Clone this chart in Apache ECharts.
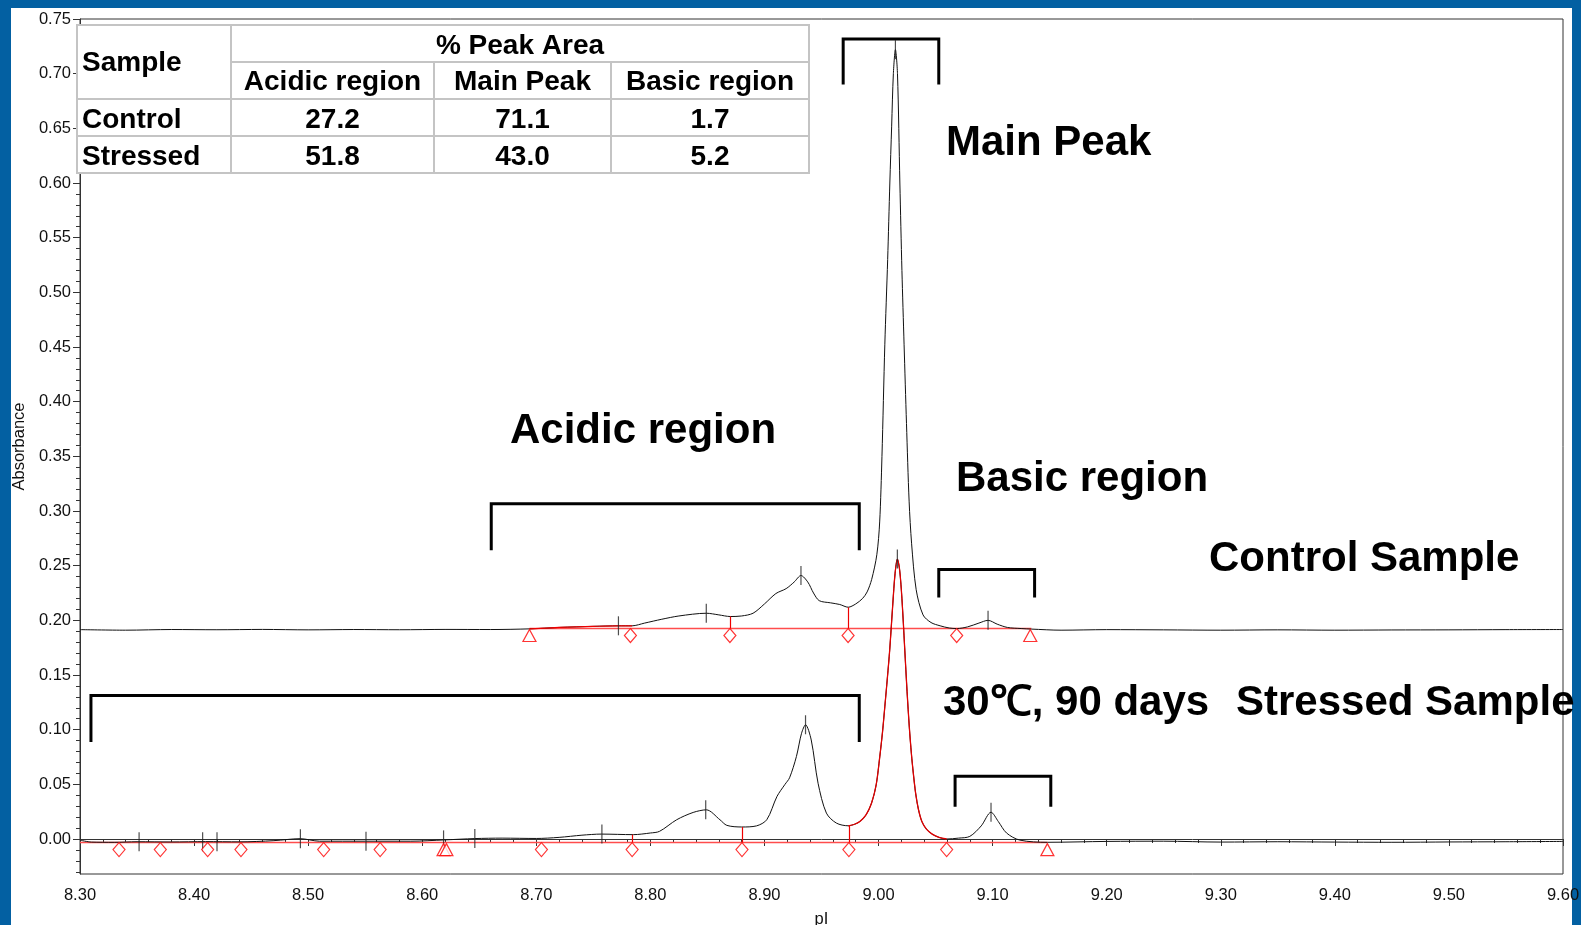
<!DOCTYPE html>
<html lang="en">
<head>
<meta charset="UTF-8">
<title>cIEF profile</title>
<script src="https://cdn.jsdelivr.net/npm/echarts@6/dist/echarts.min.js"></script>
<style>
    html, body { margin: 0; padding: 0; background: #fff; }
    #box { width: 1581px; height: 925px; }
</style>
</head>
<body>
<div id="box"></div>
<script>
    // traces (pI, absorbance)
    var controlTrace = [
        [8.30, 0.1915], [8.34, 0.1910], [8.38, 0.1916], [8.42, 0.1914], [8.46, 0.1917], [8.50, 0.1913],
        [8.54, 0.1916], [8.58, 0.1914], [8.62, 0.1917], [8.66, 0.1916], [8.694, 0.1922], [8.72, 0.1935],
        [8.75, 0.1945], [8.772, 0.1950], [8.784, 0.1950], [8.795, 0.1975], [8.81, 0.2010], [8.825, 0.2040],
        [8.849, 0.2065], [8.860, 0.2050], [8.870, 0.2035], [8.880, 0.2040], [8.890, 0.2065], [8.900, 0.2150],
        [8.910, 0.2245], [8.919, 0.2290], [8.926, 0.2350], [8.932, 0.2410], [8.938, 0.2350], [8.943, 0.2250],
        [8.948, 0.2180], [8.958, 0.2160], [8.966, 0.2145], [8.9734, 0.2120], [8.980, 0.2150], [8.986, 0.2200],
        [8.990, 0.2260], [8.994, 0.2375], [8.9985, 0.260], [9.001, 0.290], [9.003, 0.350], [9.0055, 0.452],
        [9.008, 0.530], [9.0099, 0.600], [9.0115, 0.652], [9.0130, 0.700], [9.0148, 0.722], [9.0166, 0.700],
        [9.0187, 0.600], [9.0205, 0.520], [9.0224, 0.452], [9.0245, 0.380], [9.0268, 0.309], [9.029, 0.270],
        [9.033, 0.228], [9.039, 0.205], [9.046, 0.198], [9.054, 0.195], [9.062, 0.193], [9.0685, 0.1925],
        [9.078, 0.1940], [9.088, 0.1975], [9.096, 0.2000], [9.104, 0.1965], [9.113, 0.1935], [9.125, 0.1925],
        [9.134, 0.1920], [9.16, 0.1910], [9.20, 0.1915], [9.25, 0.1913], [9.30, 0.1910], [9.35, 0.1913],
        [9.40, 0.1910], [9.45, 0.1912], [9.50, 0.1913], [9.55, 0.1915], [9.60, 0.1916]
    ];
    var stressedTrace = [
        [8.30, -0.0010], [8.31, -0.0028], [8.33, -0.0030], [8.35, -0.0025], [8.38, -0.0027], [8.41, -0.0024],
        [8.44, -0.0026], [8.47, -0.0015], [8.493, 0.0003], [8.51, -0.0020], [8.55, -0.0020], [8.59, -0.0020],
        [8.62, -0.0008], [8.646, 0.0004], [8.67, 0.0008], [8.70, 0.0005], [8.72, 0.0015], [8.74, 0.0035],
        [8.757, 0.0045], [8.785, 0.0040], [8.800, 0.0055], [8.808, 0.0070], [8.823, 0.0176], [8.8375, 0.0243],
        [8.849, 0.0267], [8.861, 0.0176], [8.867, 0.0125], [8.880, 0.0110], [8.893, 0.0120], [8.902, 0.0176],
        [8.911, 0.0390], [8.918, 0.0500], [8.922, 0.0560], [8.928, 0.0754], [8.9325, 0.0967], [8.936, 0.1045],
        [8.941, 0.0906], [8.947, 0.0510], [8.9543, 0.0237], [8.963, 0.0146], [8.9734, 0.0121], [8.979, 0.0135],
        [8.9836, 0.016], [8.989, 0.022], [8.9939, 0.033], [8.998, 0.050], [9.0011, 0.0754], [9.0035, 0.098],
        [9.0055, 0.121], [9.0078, 0.148], [9.0098, 0.173], [9.0125, 0.215], [9.0145, 0.243], [9.0165, 0.256],
        [9.0185, 0.246], [9.0205, 0.220], [9.0229, 0.175], [9.0250, 0.135], [9.0270, 0.102], [9.0288, 0.078],
        [9.0305, 0.060], [9.0325, 0.042], [9.0350, 0.027], [9.0380, 0.016], [9.0420, 0.009], [9.0470, 0.0045],
        [9.0530, 0.0015], [9.0597, 0.0000],
        [9.070, 0.0008], [9.080, 0.0024], [9.090, 0.0120], [9.0986, 0.0245], [9.105, 0.0160], [9.1122, 0.0055],
        [9.1238, -0.0010], [9.148, -0.0030], [9.20, -0.0022], [9.25, -0.0020], [9.30, -0.0028], [9.35, -0.0025],
        [9.40, -0.0028], [9.45, -0.0030], [9.50, -0.0027], [9.55, -0.0025], [9.60, -0.0022]
    ];

    // integration marks
    var controlRedRange = [8.694, 8.784];
    var stressedRedRange = [8.9734, 9.0597];
    var controlBaseline = [[8.694, 0.1925], [9.134, 0.1925]];
    var stressedBaseline = [[8.30, -0.0033], [9.148, -0.0033]];
    var controlDiamonds = [8.7825, 8.8697, 8.9733, 9.0685];
    var controlTriangles = [8.694, 9.133];
    var stressedDiamonds = [8.3342, 8.3704, 8.4119, 8.4411, 8.5136, 8.5631, 8.7045, 8.784, 8.8803, 8.974, 9.0597];
    var stressedTriangles = [8.6187, 8.6212, 9.148];
    var controlDrops = [[8.8697, 0.2035], [8.9733, 0.2120]];
    var stressedDrops = [[8.784, 0.0040], [8.8803, 0.0110], [8.974, 0.0121]];
    var controlApex = [[8.772, 0.1950], [8.849, 0.2065], [8.932, 0.2410], [9.0148, 0.722], [9.096, 0.2000]];
    var stressedApex = [[8.3518, -0.0026], [8.4075, -0.0024], [8.4201, -0.0025], [8.4932, 0.0003], [8.5507, -0.0020],
        [8.6187, -0.0008], [8.6461, 0.0004], [8.7575, 0.0045], [8.8485, 0.0267], [8.936, 0.1045],
        [9.0165, 0.256], [9.0986, 0.0245]];

    // region brackets: [x left, x right, y top, y bottom]
    var brackets = [
        [8.969, 9.0528, 0.7316, 0.690],
        [8.6605, 8.9831, 0.3066, 0.2642],
        [9.0528, 9.1368, 0.2466, 0.2208],
        [8.3096, 8.9831, 0.1312, 0.0887],
        [9.0671, 9.1510, 0.0573, 0.0296]
    ];

    var xTicks = [8.30, 9.60, 0.1];
    var yMajor = [0, 0.05, 0.10, 0.15, 0.20, 0.25, 0.30, 0.35, 0.40, 0.45, 0.50, 0.55, 0.60, 0.65, 0.70, 0.75];
    var yMinor = [];
    for (var i = -3; i <= 75; i++) yMinor.push(i / 100);

    var tableHead = ['Sample', '% Peak Area', 'Acidic region', 'Main Peak', 'Basic region'];
    var tableRows = [['Control', 27.2, 71.1, 1.7], ['Stressed', 51.8, 43.0, 5.2]];

    var FONT = 'Liberation Sans, Arial, Helvetica, sans-serif';
    var BLUE = '#0360a2';

    function inRange(trace, r) {
        return trace.filter(function (p) { return p[0] >= r[0] && p[0] <= r[1]; });
    }
    function onBase(xs, y) {
        return xs.map(function (x) { return [x, y]; });
    }
    function dropLines(drops, base) {
        return drops.map(function (d) { return { coords: [[d[0], base], [d[0], d[1]]] }; });
    }

    // table drawn as graphic
    var cx = [77, 231, 434, 611, 809];
    var ry = [25, 62, 99, 136, 173];
    var gray = { stroke: '#c4c4c4', lineWidth: 2 };
    var graphic = [
        { type: 'rect', z: -10, shape: { x: 0, y: 0, width: 11, height: 925 }, style: { fill: BLUE } },
        { type: 'rect', z: -10, shape: { x: 0, y: 0, width: 1581, height: 8 }, style: { fill: BLUE } },
        { type: 'rect', z: -10, shape: { x: 1572, y: 0, width: 9, height: 925 }, style: { fill: BLUE } },
        { type: 'rect', z: 50, shape: { x: cx[0], y: ry[0], width: cx[4] - cx[0], height: ry[4] - ry[0] }, style: { fill: '#fff', stroke: '#c4c4c4', lineWidth: 2 } },
        { type: 'line', z: 51, shape: { x1: cx[1], y1: ry[1], x2: cx[4], y2: ry[1] }, style: gray },
        { type: 'line', z: 51, shape: { x1: cx[0], y1: ry[2], x2: cx[4], y2: ry[2] }, style: gray },
        { type: 'line', z: 51, shape: { x1: cx[0], y1: ry[3], x2: cx[4], y2: ry[3] }, style: gray },
        { type: 'line', z: 51, shape: { x1: cx[1], y1: ry[0], x2: cx[1], y2: ry[4] }, style: gray },
        { type: 'line', z: 51, shape: { x1: cx[2], y1: ry[1], x2: cx[2], y2: ry[4] }, style: gray },
        { type: 'line', z: 51, shape: { x1: cx[3], y1: ry[1], x2: cx[3], y2: ry[4] }, style: gray }
    ];
    function cellText(txt, x, y, align) {
        graphic.push({
            type: 'text', z: 52, x: x, y: y,
            style: { text: txt, fill: '#000', font: 'bold 28px ' + FONT, textAlign: align, textVerticalAlign: 'middle' }
        });
    }
    cellText(tableHead[0], 82, (ry[0] + ry[2]) / 2 + 1, 'left');
    cellText(tableHead[1], (cx[1] + cx[4]) / 2, (ry[0] + ry[1]) / 2 + 3, 'center');
    for (var c = 2; c < 5; c++) cellText(tableHead[c], (cx[c - 1] + cx[c]) / 2, (ry[1] + ry[2]) / 2 + 2, 'center');
    tableRows.forEach(function (row, r) {
        var y = (ry[r + 2] + ry[r + 3]) / 2 + 3;
        cellText(row[0], 82, y, 'left');
        for (var k = 1; k < 4; k++) cellText(row[k].toFixed(1), (cx[k] + cx[k + 1]) / 2, y, 'center');
    });

    // big labels
    function bigText(txt, x, y) {
        graphic.push({
            type: 'text', z: 60, x: x, y: y,
            style: { text: txt, fill: '#000', font: 'bold 42px ' + FONT, textAlign: 'left', textVerticalAlign: 'middle' }
        });
    }
    bigText('Main Peak', 946, 143);
    bigText('Acidic region', 510, 431);
    bigText('Basic region', 956, 479);
    bigText('Control Sample', 1209, 559);
    bigText('30℃, 90 days', 943, 703);
    bigText('Stressed Sample', 1236, 703);

    var chartDom = document.getElementById('box');
    var myChart = echarts.init(chartDom);
    var option;

    var axisColor = '#333';
    var diamondStyle = { color: '#fff', borderColor: '#ff0000', borderWidth: 1.2 };

    option = {
        backgroundColor: '#fff',
        animation: false,
        grid: {
            left: 80, right: 18, top: 19, bottom: 51,
            containLabel: false, outerBoundsMode: 'none',
            show: true, borderColor: axisColor, borderWidth: 1, backgroundColor: 'transparent'
        },
        xAxis: {
            type: 'value', min: xTicks[0], max: xTicks[1], interval: xTicks[2],
            name: 'pI', nameLocation: 'middle', nameGap: 37,
            nameTextStyle: { fontSize: 16.5, color: '#111', fontFamily: FONT },
            axisLine: { show: true, lineStyle: { color: axisColor, width: 1 } },
            axisTick: { show: true, length: 7, lineStyle: { color: axisColor } },
            minorTick: { show: true, splitNumber: 5, length: 4, lineStyle: { color: axisColor } },
            axisLabel: {
                fontSize: 16.5, color: '#111', fontFamily: FONT, margin: 13, hideOverlap: false,
                showMinLabel: true, showMaxLabel: true,
                formatter: function (v) { return v.toFixed(2); }
            },
            splitLine: { show: false }, minorSplitLine: { show: false }
        },
        yAxis: [
            {
                type: 'value', min: -0.032, max: 0.75, position: 'left',
                name: 'Absorbance', nameLocation: 'middle', nameGap: 49, nameRotate: 90,
                nameTextStyle: { fontSize: 16.5, color: '#111', fontFamily: FONT },
                axisLine: { show: true, lineStyle: { color: axisColor, width: 1 } },
                axisTick: { show: true, length: 7, customValues: yMajor, lineStyle: { color: axisColor } },
                axisLabel: {
                    fontSize: 16.5, color: '#111', fontFamily: FONT, margin: 9, customValues: yMajor,
                    formatter: function (v) { return v.toFixed(2); }
                },
                splitLine: { show: false }
            },
            {
                type: 'value', min: -0.032, max: 0.75, position: 'left', offset: 0,
                axisLine: { show: false },
                axisTick: { show: true, length: 4, customValues: yMinor, lineStyle: { color: axisColor } },
                axisLabel: { show: false, customValues: yMinor },
                splitLine: { show: false }
            }
        ],
        graphic: graphic,
        series: [
            {
                name: 'control baseline', type: 'line', data: controlBaseline, showSymbol: false, z: 2,
                lineStyle: { color: '#ff4d4d', width: 1.5 }
            },
            {
                name: 'stressed baseline', type: 'line', data: stressedBaseline, showSymbol: false, z: 2,
                lineStyle: { color: '#ff4d4d', width: 1.5 }
            },
            {
                name: 'Control', type: 'line', data: controlTrace, showSymbol: false, smooth: 0.3, z: 3,
                lineStyle: { color: '#111', width: 1 }
            },
            {
                name: 'Stressed', type: 'line', data: stressedTrace, showSymbol: false, smooth: 0.3, z: 3,
                lineStyle: { color: '#111', width: 1 }
            },
            {
                name: 'control red', type: 'line', data: inRange(controlTrace, controlRedRange), showSymbol: false, smooth: 0.3, z: 4,
                lineStyle: { color: '#ee0000', width: 1.2 }
            },
            {
                name: 'stressed main', type: 'line', data: inRange(stressedTrace, stressedRedRange), showSymbol: false, smooth: 0.3, z: 4,
                lineStyle: { color: '#e00000', width: 1.3 }
            },
            {
                name: 'drops', type: 'lines', coordinateSystem: 'cartesian2d', z: 4,
                data: dropLines(controlDrops, controlBaseline[0][1]).concat(dropLines(stressedDrops, stressedBaseline[0][1])),
                lineStyle: { color: '#ee0000', width: 1.2, opacity: 1 }
            },
            {
                name: 'brackets', type: 'lines', coordinateSystem: 'cartesian2d', polyline: true, z: 5,
                data: brackets.map(function (b) {
                    return { coords: [[b[0], b[3]], [b[0], b[2]], [b[1], b[2]], [b[1], b[3]]] };
                }),
                lineStyle: { color: '#000', width: 3, opacity: 1, join: 'miter' }
            },
            {
                name: 'apex', type: 'scatter', symbol: 'rect', symbolSize: [1.2, 19], z: 6,
                data: controlApex.concat(stressedApex),
                itemStyle: { color: '#222' }
            },
            {
                name: 'diamonds', type: 'scatter', symbol: 'diamond', symbolSize: [12, 14], symbolOffset: [0, 7], z: 7,
                data: onBase(controlDiamonds, controlBaseline[0][1]).concat(onBase(stressedDiamonds, stressedBaseline[0][1])),
                itemStyle: diamondStyle
            },
            {
                name: 'triangles', type: 'scatter', symbol: 'triangle', symbolSize: [13, 12], symbolOffset: [0, 7], z: 7,
                data: onBase(controlTriangles, controlBaseline[0][1]).concat(onBase(stressedTriangles, stressedBaseline[0][1])),
                itemStyle: diamondStyle
            }
        ]
    };

    option && myChart.setOption(option);
</script>
</body>
</html>
